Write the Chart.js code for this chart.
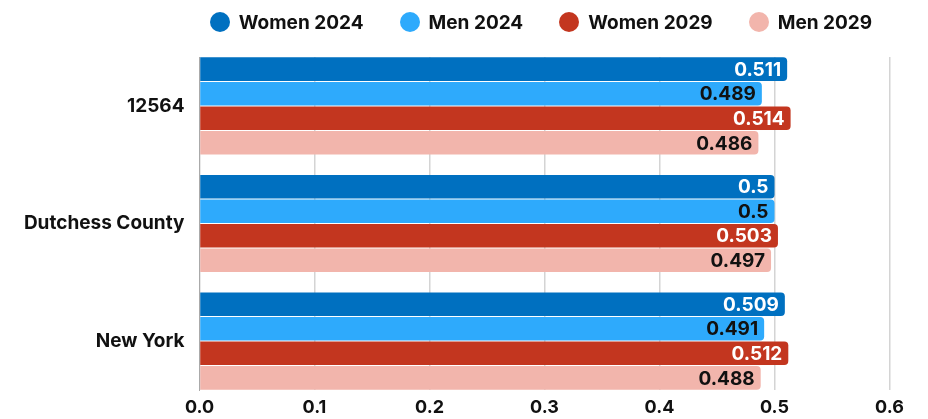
<!DOCTYPE html>
<html>
<head>
<meta charset="utf-8">
<script src="https://cdn.jsdelivr.net/npm/chart.js@4.4.1/dist/chart.umd.min.js"></script>
<style>
  html, body { margin: 0; padding: 0; background: #fff; }
  #wrap { position: relative; width: 928px; height: 419px; }
  #legend { position: absolute; top: 0; height: 44px; display: flex; justify-content: center; align-items: center;
            font: bold 19px Inter, sans-serif; color: #111; }
  .item { display: flex; align-items: center; margin: 0 18px; white-space: nowrap; }
  .dot { width: 20px; height: 20px; border-radius: 50%; margin-right: 9px; }
</style>
</head>
<body>
<div id="wrap">
  <canvas id="grafica" width="928" height="419"></canvas>
  <div id="legend"></div>
</div>
<script>
const categories = ['12564', 'Dutchess County', 'New York'];
const seriesNames = ['Women 2024', 'Men 2024', 'Women 2029', 'Men 2029'];
const women2024 = [0.511, 0.5, 0.509];
const men2024 = [0.489, 0.5, 0.491];
const women2029 = [0.514, 0.503, 0.512];
const men2029 = [0.486, 0.497, 0.488];
const xTicks = [0, 0.1, 0.2, 0.3, 0.4, 0.5, 0.6];

const series = [women2024, men2024, women2029, men2029];
const colors = ['#0070c0', '#2eaafc', '#c3361f', '#f2b5ac'];
const labelColors = ['#ffffff', '#111111', '#ffffff', '#111111'];

// value labels drawn inside the end of each bar
const barLabels = {
    id: 'barLabels',
    afterDatasetsDraw(chart) {
        const ctx = chart.ctx;
        ctx.save();
        ctx.font = 'bold 19px Inter, sans-serif';
        ctx.textAlign = 'right';
        ctx.textBaseline = 'middle';
        chart.data.datasets.forEach((ds, i) => {
            chart.getDatasetMeta(i).data.forEach((bar, j) => {
                ctx.fillStyle = labelColors[i];
                ctx.fillText(String(series[i][j]), bar.x - 6, bar.y + 1);
            });
        });
        ctx.restore();
    }
};

const chart = new Chart(document.getElementById('grafica'), {
    type: 'bar',
    data: {
        datasets: series.map((vals, i) => ({
            label: seriesNames[i],
            data: vals.map((v, j) => ({ x: v, y: j })),
            backgroundColor: colors[i],
            borderRadius: 4,
            categoryPercentage: 0.836,
            barPercentage: 0.96
        }))
    },
    options: {
        indexAxis: 'y',
        responsive: false,
        animation: false,
        layout: { padding: { top: 57, right: 38.5, bottom: 0, left: 0 } },
        plugins: {
            legend: { display: false },
            tooltip: { enabled: false }
        },
        scales: {
            x: {
                type: 'linear',
                min: 0,
                max: 0.6,
                afterBuildTicks: s => { s.ticks = xTicks.map(v => ({ value: v })); },
                afterFit: s => { s.height = 29; },
                ticks: {
                    callback: v => v.toFixed(1),
                    font: { family: 'Inter', size: 18, weight: 'bold', lineHeight: 1.2 },
                    color: '#111',
                    padding: 7
                },
                grid: { color: '#d4d4d4', lineWidth: 1.5, drawTicks: false },
                border: { display: false }
            },
            y: {
                type: 'linear',
                reverse: true,
                offset: false,
                bounds: 'data',
                min: -0.417,
                max: 2.417,
                afterBuildTicks: s => { s.ticks = categories.map((c, j) => ({ value: j })); },
                afterFit: s => { s.width = 199.5; },
                ticks: {
                    callback: v => categories[v] || '',
                    font: { family: 'Inter', size: 19, weight: 'bold' },
                    color: '#111',
                    padding: 15
                },
                grid: { display: false, drawTicks: false },
                border: { display: true, color: '#aaaaaa', width: 1 }
            }
        }
    },
    plugins: [barLabels]
});

// legend built from the series, centred over the plot area
const legend = document.getElementById('legend');
legend.style.left = (chart.chartArea.left - 3.5) + 'px';
legend.style.width = chart.chartArea.width + 'px';
seriesNames.forEach((name, i) => {
    const item = document.createElement('div');
    item.className = 'item';
    const dot = document.createElement('span');
    dot.className = 'dot';
    dot.style.background = colors[i];
    item.appendChild(dot);
    item.appendChild(document.createTextNode(name));
    legend.appendChild(item);
});
</script>
</body>
</html>
